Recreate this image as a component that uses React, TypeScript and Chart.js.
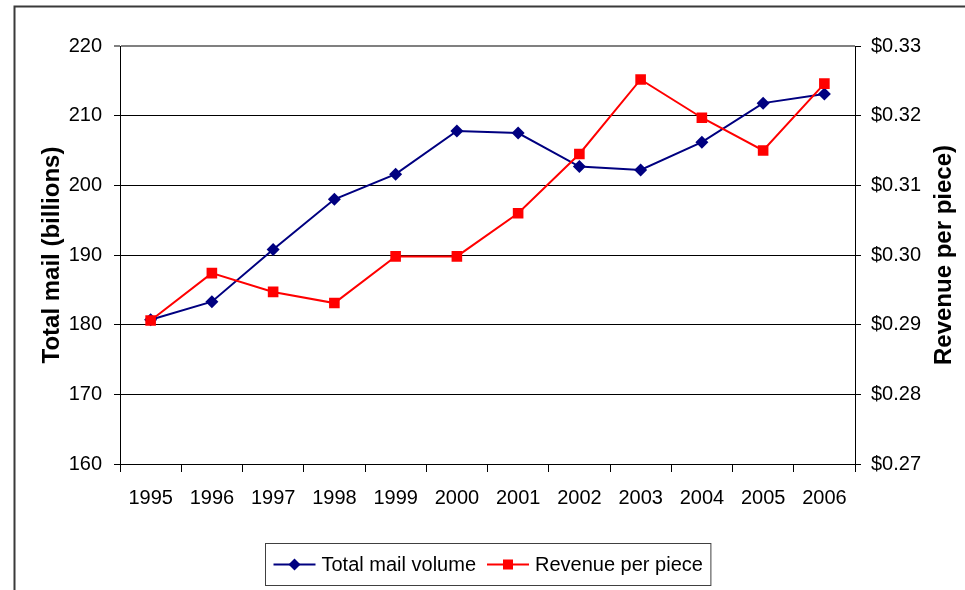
import React, { useEffect, useRef } from 'react';
import { Chart, registerables } from 'chart.js';

Chart.register(...registerables);

// ---- data ----
const years = ['1995', '1996', '1997', '1998', '1999', '2000', '2001', '2002', '2003', '2004', '2005', '2006'];
const mailVolume = [180.7, 183.3, 190.8, 198.0, 201.6, 207.8, 207.5, 202.7, 202.2, 206.2, 211.8, 213.1];
const revenuePerPiece = [0.2906, 0.2974, 0.2947, 0.2931, 0.2998, 0.2998, 0.306, 0.3145, 0.3252, 0.3197, 0.315, 0.3246];
const seriesNames = ['Total mail volume', 'Revenue per piece'];
const leftAxisTitle = 'Total mail (billions)';
const rightAxisTitle = 'Revenue per piece)';
const leftRange = { min: 160, max: 220, step: 10 };
const rightRange = { min: 0.27, max: 0.33, step: 0.01 };

const FONT = "'Liberation Sans', Arial, sans-serif";
const BLUE = '#000080';
const RED = '#FF0000';

function drawDiamond(ctx: CanvasRenderingContext2D, x: number, y: number, r: number, color: string) {
  ctx.beginPath();
  ctx.moveTo(x, y - r);
  ctx.lineTo(x + r, y);
  ctx.lineTo(x, y + r);
  ctx.lineTo(x - r, y);
  ctx.closePath();
  ctx.fillStyle = color;
  ctx.fill();
}

function drawSquare(ctx: CanvasRenderingContext2D, x: number, y: number, h: number, color: string) {
  ctx.fillStyle = color;
  ctx.fillRect(x - h, y - h, h * 2, h * 2);
}

const framePlugin = {
  id: 'frame',
  beforeDraw(chart: any) {
    const ctx = chart.ctx;
    ctx.save();
    ctx.fillStyle = '#ffffff';
    ctx.fillRect(0, 0, chart.width, chart.height);
    ctx.strokeStyle = '#3a3a3a';
    ctx.lineWidth = 2;
    ctx.beginPath();
    ctx.moveTo(14.5, chart.height + 5);
    ctx.lineTo(14.5, 6.5);
    ctx.lineTo(chart.width + 5, 6.5);
    ctx.stroke();
    ctx.restore();
  },
};

const extrasPlugin = {
  id: 'extras',
  afterDraw(chart: any) {
    const ctx: CanvasRenderingContext2D = chart.ctx;
    const area = chart.chartArea;
    const right = chart.scales.yRight;
    ctx.save();
    // right axis title, reading upward
    ctx.font = `bold 24px ${FONT}`;
    ctx.fillStyle = '#000';
    ctx.textAlign = 'center';
    ctx.textBaseline = 'middle';
    ctx.translate(right.right - 21, (area.top + area.bottom) / 2);
    ctx.rotate(-Math.PI / 2);
    ctx.fillText(rightAxisTitle, 0, 0);
    ctx.restore();

    // legend
    ctx.save();
    ctx.font = `20px ${FONT}`;
    ctx.textBaseline = 'middle';
    ctx.textAlign = 'left';
    const lineLen = 42;
    const gapText = 6;
    const gapItems = 11;
    const padX = 8;
    const w0 = ctx.measureText(seriesNames[0]).width;
    const w1 = ctx.measureText(seriesNames[1]).width;
    const inner = lineLen + gapText + w0 + gapItems + lineLen + gapText + w1;
    const boxW = inner + padX * 2;
    const cx = (area.left + area.right) / 2;
    const boxX = Math.round(cx - boxW / 2) + 0.5;
    const boxY = 543.5;
    const boxH = 42;
    ctx.strokeStyle = '#404040';
    ctx.lineWidth = 1;
    ctx.strokeRect(boxX, boxY, boxW, boxH);
    const cy = boxY + boxH / 2;
    let x = boxX + padX;
    const items = [
      { name: seriesNames[0], color: BLUE, w: w0, marker: 'diamond' },
      { name: seriesNames[1], color: RED, w: w1, marker: 'square' },
    ];
    items.forEach((it) => {
      ctx.strokeStyle = it.color;
      ctx.lineWidth = 2;
      ctx.beginPath();
      ctx.moveTo(x, cy);
      ctx.lineTo(x + lineLen, cy);
      ctx.stroke();
      if (it.marker === 'diamond') drawDiamond(ctx, x + lineLen / 2, cy, 6, it.color);
      else drawSquare(ctx, x + lineLen / 2, cy, 5, it.color);
      x += lineLen + gapText;
      ctx.fillStyle = '#000';
      ctx.fillText(it.name, x, cy + 1);
      x += it.w + gapItems;
    });
    ctx.restore();
  },
};

export default function App() {
  const ref = useRef<HTMLCanvasElement | null>(null);

  useEffect(() => {
    document.body.style.margin = '0';
    const canvas = ref.current;
    if (!canvas) return;
    const tickFont = { family: FONT, size: 20 };
    const chart = new Chart(canvas, {
      type: 'line',
      data: {
        labels: years,
        datasets: [
          {
            label: seriesNames[0],
            data: mailVolume,
            yAxisID: 'yLeft',
            borderColor: BLUE,
            backgroundColor: BLUE,
            borderWidth: 2,
            pointStyle: 'rectRot',
            pointRadius: 6.5,
            pointBorderWidth: 0,
            tension: 0,
            order: 1,
          },
          {
            label: seriesNames[1],
            data: revenuePerPiece,
            yAxisID: 'yRight',
            borderColor: RED,
            backgroundColor: RED,
            borderWidth: 2,
            pointStyle: 'rect',
            pointRadius: 7.5,
            pointBorderWidth: 0,
            tension: 0,
            order: 0,
          },
        ],
      },
      options: {
        responsive: false,
        animation: false,
        events: [],
        layout: { padding: { top: 46, left: 0, right: 0, bottom: 0 } },
        plugins: {
          legend: { display: false },
          tooltip: { enabled: false },
          title: { display: false },
        },
        scales: {
          x: {
            type: 'category',
            offset: true,
            grid: {
              offset: true,
              drawOnChartArea: false,
              drawTicks: true,
              tickLength: 8,
              color: '#000',
              lineWidth: 1,
            },
            border: { display: true, color: '#000', width: 1 },
            ticks: { font: tickFont, color: '#000', padding: 14, maxRotation: 0, autoSkip: false },
            afterFit: (s: any) => {
              s.height = 126;
            },
          },
          yLeft: {
            type: 'linear',
            position: 'left',
            min: leftRange.min,
            max: leftRange.max,
            grid: {
              color: (c: any) => (c.tick && c.tick.value === leftRange.max ? '#808080' : '#000'),
              lineWidth: (c: any) => (c.tick && c.tick.value === leftRange.max ? 2 : 1),
              drawTicks: true,
              tickLength: 6,
            },
            border: { display: true, color: '#000', width: 1 },
            ticks: { stepSize: leftRange.step, font: tickFont, color: '#000', padding: 12 },
            title: {
              display: true,
              text: leftAxisTitle,
              font: { family: FONT, size: 24, weight: 'bold' },
              color: '#000',
              padding: { top: 38, bottom: 0 },
            },
            afterFit: (s: any) => {
              s.width = 120;
            },
          },
          yRight: {
            type: 'linear',
            position: 'right',
            min: rightRange.min,
            max: rightRange.max,
            grid: {
              drawOnChartArea: false,
              drawTicks: true,
              tickLength: 6,
              color: '#000',
            },
            border: { display: true, color: '#000', width: 1 },
            ticks: {
              stepSize: rightRange.step,
              font: tickFont,
              color: '#000',
              padding: 10,
              callback: (v: any) => '$' + Number(v).toFixed(2),
            },
            afterFit: (s: any) => {
              s.width = 110;
            },
          },
        },
      } as any,
      plugins: [framePlugin, extrasPlugin],
    });
    return () => chart.destroy();
  }, []);

  return <canvas ref={ref} width={965} height={590} style={{ display: 'block' }} />;
}
